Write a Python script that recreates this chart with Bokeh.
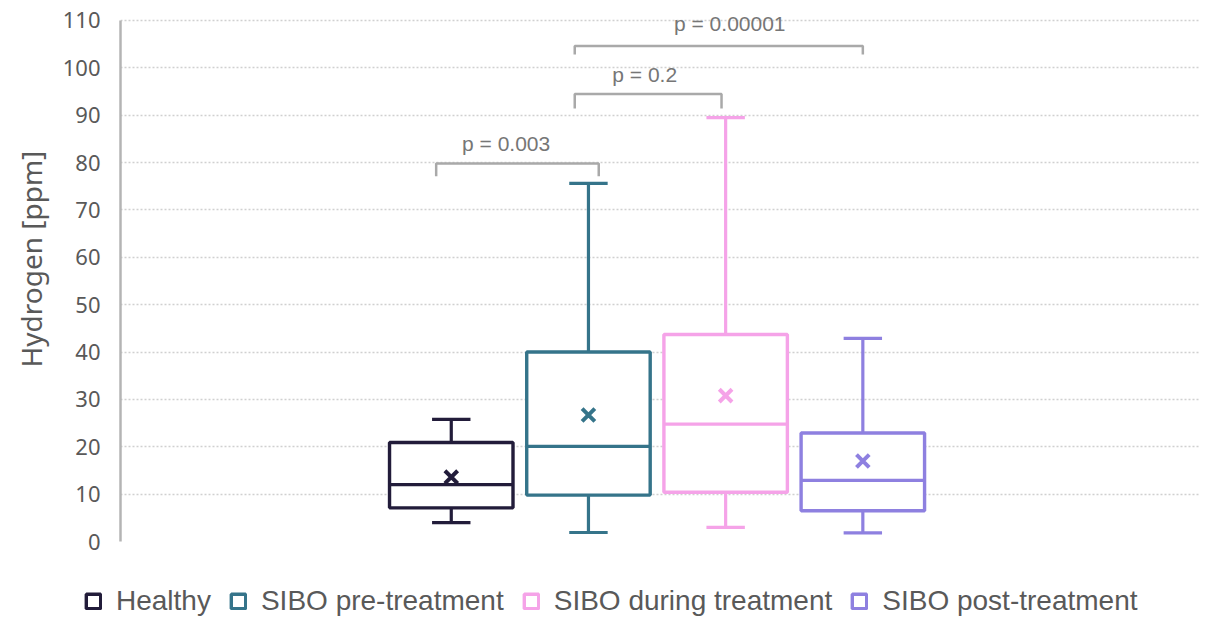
from bokeh.plotting import figure
from bokeh.layouts import column
from bokeh.models import Range1d, Legend, LegendItem, ColumnDataSource, SingleIntervalTicker, Title
from bokeh.core.properties import value
from bokeh.embed import file_html
from bokeh.resources import INLINE

# ---- data ----
groups = ["Healthy", "SIBO pre-treatment", "SIBO during treatment", "SIBO post-treatment"]
colors = ["#221c3a", "#35748a", "#f5a3e8", "#8e80e0"]
mins = [4.0, 1.9, 3.0, 1.8]
q1s = [7.1, 9.8, 10.4, 6.5]
medians = [12.0, 20.1, 24.8, 12.9]
q3s = [20.9, 40.0, 43.7, 22.9]
maxs = [25.8, 75.6, 89.5, 42.9]
means = [13.6, 26.7, 30.8, 17.0]

# significance brackets (x in group-index units)
br_left = [-0.11, 0.90, 0.90]
br_right = [1.075, 1.97, 3.0]
br_top = [79.8, 94.5, 104.6]
br_leg = [77.1, 91.4, 102.8]
p_labels = ["p = 0.003", "p = 0.2", "p = 0.00001"]
p_x = [0.40, 1.41, 2.03]
p_y = [84.1, 98.6, 109.3]

y_label = "Hydrogen [ppm]"

xs = list(range(len(groups)))
box_w = 0.90
cap_w = 0.28

p = figure(width=1199, height=560, output_backend="svg", toolbar_location=None,
           x_range=Range1d(-2.411, 5.454), y_range=Range1d(0, 114.22),
           x_axis_type=None, min_border_left=116, min_border_right=0,
           min_border_top=0, min_border_bottom=19)
p.frame_align = False
p.outline_line_color = None
p.background_fill_color = "white"

# y axis styling
p.yaxis.ticker = SingleIntervalTicker(interval=10)
p.yaxis.bounds = (0, 110)
p.yaxis.axis_line_color = "#b4b4b4"
p.yaxis.axis_line_width = 2.5
p.yaxis.major_tick_line_color = None
p.yaxis.minor_tick_line_color = None
p.yaxis.major_label_text_font = "Noto Sans"
p.yaxis.major_label_text_font_size = "22px"
p.yaxis.major_label_text_color = "#595959"
p.yaxis.major_label_standoff = 14

p.add_layout(Title(text=y_label, align="left", offset=174, standoff=19,
                   text_font="Noto Sans", text_font_size="28px", text_font_style="normal",
                   text_color="#595959"), "left")

p.ygrid.grid_line_color = "#d0d0d0"
p.ygrid.grid_line_width = 1.3
p.ygrid.grid_line_dash = "2 2"
p.xgrid.grid_line_color = None

src = ColumnDataSource(dict(x=xs, mn=mins, q1=q1s, med=medians, q3=q3s, mx=maxs,
                            mean=means, color=colors,
                            left=[x - box_w / 2 for x in xs], right=[x + box_w / 2 for x in xs],
                            cl=[x - cap_w / 2 for x in xs], cr=[x + cap_w / 2 for x in xs]))

# whiskers
p.segment(x0="x", y0="q3", x1="x", y1="mx", line_color="color", line_width=3.2, source=src)
p.segment(x0="x", y0="mn", x1="x", y1="q1", line_color="color", line_width=3.2, source=src)
p.segment(x0="cl", y0="mx", x1="cr", y1="mx", line_color="color", line_width=3.2, source=src)
p.segment(x0="cl", y0="mn", x1="cr", y1="mn", line_color="color", line_width=3.2, source=src)

# boxes
for i in range(len(groups)):
    p.quad(left=[xs[i] - box_w / 2], right=[xs[i] + box_w / 2], bottom=[q1s[i]], top=[q3s[i]],
           fill_color="white", line_color=colors[i], line_width=3.4)

# medians
p.segment(x0="left", y0="med", x1="right", y1="med", line_color="color", line_width=3.2, source=src)
# means
p.scatter(x="x", y="mean", marker="x", size=18, line_color="color", line_width=4, source=src)

# brackets
p.multi_line(xs=[[l, l, r, r] for l, r in zip(br_left, br_right)],
             ys=[[lg, t, t, lg] for lg, t in zip(br_leg, br_top)],
             line_color="#a9a9a9", line_width=2.5)
p.text(x=p_x, y=p_y, text=p_labels, text_align="center", text_baseline="middle",
       text_font=value("Liberation Sans"), text_font_size="21px", text_color="#767676")

# ---- legend strip below the chart ----
lf = figure(width=1199, height=58, output_backend="svg", toolbar_location=None,
            x_range=Range1d(100, 101), y_range=Range1d(100, 101),
            x_axis_type=None, y_axis_type=None,
            min_border_left=0, min_border_right=0, min_border_top=0, min_border_bottom=0)
lf.frame_align = False
lf.outline_line_color = None
leg_renderers = []
for i in range(len(groups)):
    r = lf.quad(left=[xs[i] - box_w / 2], right=[xs[i] + box_w / 2], bottom=[q1s[i]], top=[q3s[i]],
                fill_color="white", line_color=colors[i], line_width=3.4)
    leg_renderers.append(r)

legend = Legend(items=[LegendItem(label=g, renderers=[r]) for g, r in zip(groups, leg_renderers)],
                orientation="horizontal", location=(84, 1),
                label_text_font="Liberation Sans", label_text_font_size="28px",
                label_text_color="#595959", glyph_width=18, glyph_height=18,
                label_standoff=14, spacing=18, padding=0, margin=0,
                border_line_color=None, background_fill_alpha=0)
lf.add_layout(legend, "center")

layout = column(p, lf, spacing=0)
open("out.html", "w").write(file_html(layout, INLINE))
